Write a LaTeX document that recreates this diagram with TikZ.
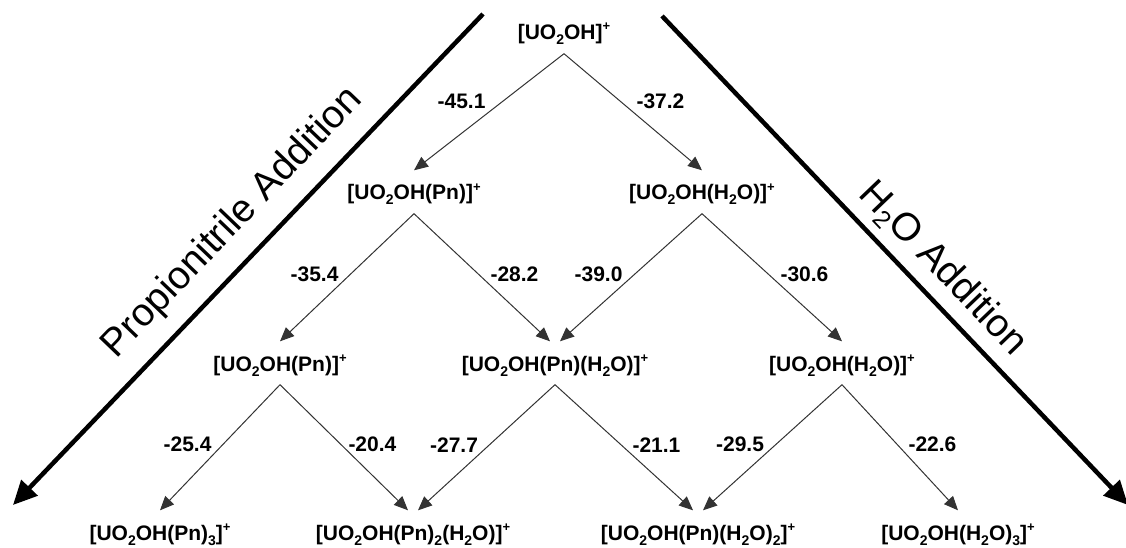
\documentclass[tikz,border=0pt]{standalone}
\usepackage{fontspec}
\setmainfont{Liberation Sans}
\usetikzlibrary{arrows.meta}

% chemical formula helpers (sized for the 21pt species labels)
\newcommand\chdn[1]{\raisebox{-5pt}{\fontsize{14}{14}\selectfont #1}}
\newcommand\chplus{\raisebox{9pt}{\fontsize{13}{13}\selectfont +}}
\newcommand\uion[1]{[UO\chdn{2}OH#1]\chplus}

\tikzset{
  species/.style={font=\fontsize{21}{25}\selectfont\bfseries,
    text height=21.5pt, text depth=5.5pt, inner ysep=8pt, inner xsep=0pt},
  energy/.style={font=\fontsize{21}{25}\selectfont\bfseries, inner sep=3pt, midway},
  eleft/.style={energy, above left, xshift=-5pt, yshift=-8pt},
  eright/.style={energy, above right, xshift=5pt, yshift=-8pt},
  react/.style={draw=black!80, line width=1pt, -{Triangle[length=14pt,width=12pt]}},
  trend/.style={line width=4.5pt, -{Triangle[length=24pt,width=22pt]}},
  trendtext/.style={font=\fontsize{39}{42}\selectfont, inner sep=0pt}
}

\begin{document}
\begin{tikzpicture}[x=1pt,y=-1pt]
\useasboundingbox (0,0) rectangle (1126,548);

% species, one row per number of added ligands
\node[species] (top) at (564,32) {\uion{}};

\node[species] (p1) at (414,192) {\uion{(Pn)}};
\node[species] (w1) at (702,192) {\uion{(H\chdn{2}O)}};

\node[species] (p2)  at (280,363) {\uion{(Pn)}};
\node[species] (m11) at (555,363) {\uion{(Pn)(H\chdn{2}O)}};
\node[species] (w2)  at (842,363) {\uion{(H\chdn{2}O)}};

\node[species] (p3)  at (160,532) {\uion{(Pn)\chdn{3}}};
\node[species] (p2w) at (413,532) {\uion{(Pn)\chdn{2}(H\chdn{2}O)}};
\node[species] (pw2) at (698,532) {\uion{(Pn)(H\chdn{2}O)\chdn{2}}};
\node[species] (w3)  at (958,532) {\uion{(H\chdn{2}O)\chdn{3}}};

% addition steps with binding energies
\draw[react] (top.south) -- (p1.north) node[energy, above left] {-45.1};
\draw[react] (top.south) -- (w1.north) node[energy, above right] {-37.2};

\draw[react] (p1.south) -- (p2.north) node[eleft] {-35.4};
\draw[react] (p1.south) -- ([xshift=-5pt]m11.north) node[eright] {-28.2};
\draw[react] (w1.south) -- ([xshift=5pt]m11.north) node[eleft] {-39.0};
\draw[react] (w1.south) -- (w2.north) node[eright] {-30.6};

\draw[react] (p2.south) -- (p3.north) node[eleft] {-25.4};
\draw[react] (p2.south) -- ([xshift=-5pt]p2w.north) node[eright, xshift=-4pt] {-20.4};
\draw[react] (m11.south) -- ([xshift=5pt]p2w.north) node[eleft] {-27.7};
\draw[react] (m11.south) -- ([xshift=-5pt]pw2.north) node[eright] {-21.1};
\draw[react] (w2.south) -- ([xshift=5pt]pw2.north) node[eleft] {-29.5};
\draw[react] (w2.south) -- (w3.north) node[eright] {-22.6};

% overall trends
\coordinate (pnS) at (483,14);
\coordinate (pnE) at (13,505);
\coordinate (wS) at (662,16);
\coordinate (wE) at (1128,505);
\draw[trend] (pnS) -- (pnE);
\draw[trend] (wS) -- (wE);

\node[trendtext, rotate=46.2, anchor=base] (pnlab) at (240,230) {Propionitrile Addition};
\node[trendtext, rotate=-46.2, anchor=base] (wlab) at (935,276)
  {H\raisebox{-8pt}{\fontsize{25}{25}\selectfont 2}O Addition};
\end{tikzpicture}
\end{document}
